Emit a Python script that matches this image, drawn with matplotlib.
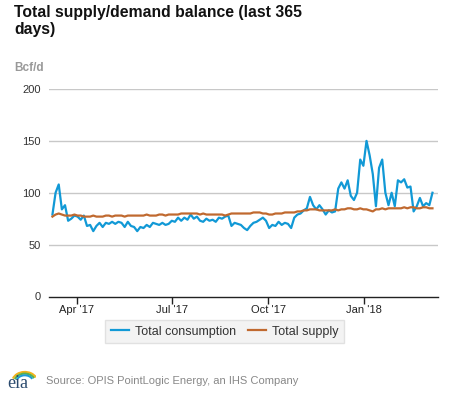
import matplotlib
matplotlib.use('Agg')
import matplotlib.pyplot as plt
from matplotlib.patches import Arc
import pandas as pd

plt.rcParams['font.family'] = ['Liberation Sans', 'DejaVu Sans']

# values sampled every 3 days, starting 9 Mar 2017 (Bcf/d)
consumption = [
    79, 100, 108, 84, 88, 73, 75, 78, 77, 74,
    78, 68, 69, 63, 68, 71, 67, 71, 70, 72,
    70, 72, 71, 67, 72, 68, 67, 63, 67, 66,
    69, 67, 71, 70, 69, 71, 69, 70, 73, 72,
    76, 73, 76, 74, 79, 75, 77, 73, 72, 75,
    73, 74, 72, 76, 75, 77, 78, 68, 71, 70,
    69, 66, 64, 68, 71, 72, 74, 76, 73, 66,
    69, 68, 72, 69, 71, 70, 66, 76, 79, 80,
    83, 85, 96, 88, 84, 88, 84, 79, 83, 81,
    82, 104, 110, 104, 112, 97, 93, 100, 132, 126,
    150, 136, 118, 87, 124, 132, 100, 88, 100, 87,
    112, 110, 113, 105, 106, 82, 87, 95, 87, 90, 88, 100,
]
supply = [
    77, 79, 80, 79, 78,
    78, 78, 79, 78, 78, 77, 77, 77, 78, 77, 77, 77, 78, 78, 77, 78,
    78, 78, 77, 78, 78, 78, 78, 78, 78, 79, 78, 78, 78, 79, 79, 78, 79, 79, 79, 79,
    80, 80, 80, 80, 80, 80, 79, 80, 79, 79, 79, 79, 79, 79, 78, 79, 80, 80, 80, 80,
    80, 80, 80, 81, 81, 81, 80, 80, 79, 79, 80, 80, 80, 81, 81, 81, 81, 82, 82, 83,
    83, 84, 84, 84, 83, 83, 83, 83, 83, 84, 83, 84, 84, 85, 85, 84, 84, 85, 84, 84,
    83, 82, 84, 84, 85, 84, 85, 85, 85, 85, 85, 86, 85, 86, 86, 85, 85, 86, 86, 85, 85,
]
dates = pd.date_range('2017-03-09', periods=len(consumption), freq='3D')

tick_dates = pd.to_datetime(['2017-04-01', '2017-07-01', '2017-10-01', '2018-01-01'])
tick_labels = ["Apr '17", "Jul '17", "Oct '17", "Jan '18"]

blue = '#1199d6'
brown = '#c0692f'

fig = plt.figure(figsize=(4.77, 3.93), dpi=100)
ax = fig.add_axes([49.3 / 477, 96.5 / 393, 388.4 / 477, 207.5 / 393])

ax.plot(dates, consumption, color=blue, lw=1.6, label='Total consumption')
ax.plot(dates, supply, color=brown, lw=1.6, label='Total supply')

ax.set_ylim(0, 200)
ax.set_yticks([0, 50, 100, 150, 200])
ax.set_xlim(pd.Timestamp('2017-03-06'), pd.Timestamp('2018-03-12'))
ax.set_xticks(tick_dates)
ax.set_xticklabels(tick_labels)

for v in [50, 100, 150, 200]:
    ax.axhline(v, color='#c8c8c8', lw=1.0, zorder=0)

for s in ['top', 'right', 'left']:
    ax.spines[s].set_visible(False)
ax.spines['bottom'].set_color('#222222')
ax.spines['bottom'].set_linewidth(1.0)
ax.tick_params(axis='y', length=0, pad=6, labelsize=8, labelcolor='#333333')
ax.tick_params(axis='x', length=5, width=1, color='#222222', pad=1,
               labelsize=8, labelcolor='#222222')

leg = ax.legend(loc='upper center', bbox_to_anchor=(0.452, -0.083), ncol=2,
                frameon=True, fontsize=9, handlelength=1.4, handletextpad=0.5,
                columnspacing=1.0, borderpad=0.45, fancybox=False)
leg.get_frame().set_facecolor('#f0f0f0')
leg.get_frame().set_edgecolor('#dcdcdc')
for t in leg.get_texts():
    t.set_color('#333333')

fig.text(14 / 477, 1 - 5 / 393, 'Total supply/demand balance (last 365\ndays)',
         fontsize=11.3, fontweight='bold', va='top', ha='left', color='#111111',
         linespacing=1.2)
fig.text(14 / 477, 1 - 68 / 393, 'Bcf/d', fontsize=8.5, fontweight='bold',
         color='#999999', va='center', ha='left')

fig.text(46 / 477, 1 - 381 / 393, 'Source: OPIS PointLogic Energy, an IHS Company',
         fontsize=8, color='#888888', va='center', ha='left')

# eia logo
fig.text(7 / 477, 1 - 384 / 393, 'eia', fontsize=13, family='Liberation Serif',
         color='#2a4a6e', va='center', ha='left')
lax = fig.add_axes([8 / 477, 1 - 382 / 393, 28 / 477, 14 / 393])
lax.set_xlim(0, 1)
lax.set_ylim(0, 1)
lax.axis('off')
for r, c in [(0.9, '#f2b31c'), (0.75, '#5bb04b'), (0.6, '#1f9bd7')]:
    lax.add_patch(Arc((0.6, 0.0), r, r * 1.6, theta1=40, theta2=150, color=c, lw=1.5))

plt.savefig('out.png', dpi=100)
